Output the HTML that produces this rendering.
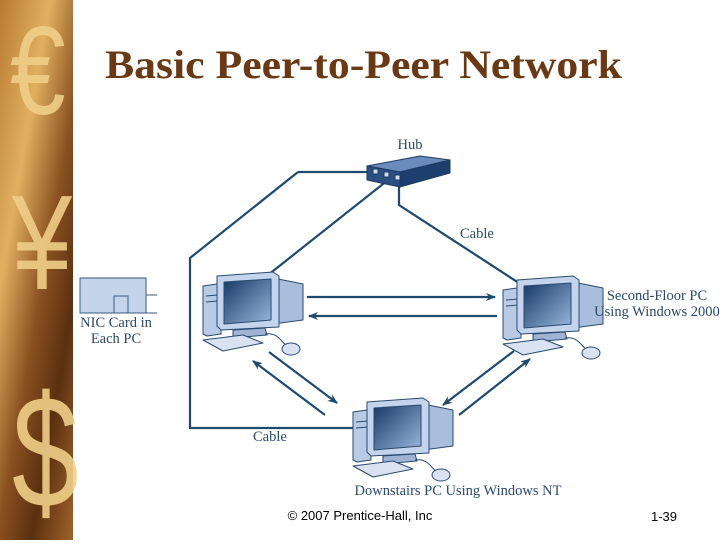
<!DOCTYPE html>
<html><head><style>
body{margin:0;width:720px;height:540px;background:#fff;overflow:hidden;position:relative;font-family:"Liberation Serif",serif}
.bar{position:absolute;left:0;top:0;width:73px;height:540px;background:linear-gradient(100deg,#b97a30 0%,#e0b060 30%,#8a5020 55%,#5a3010 75%,#a0622a 100%)}
.sym{position:absolute;color:#f0cf88;font-family:"Liberation Sans",sans-serif;opacity:.9}
</style></head><body>
<div class="bar">
<div class="sym" style="left:10px;top:0px;font-size:125px;transform:scaleX(.8);transform-origin:left">€</div>
<div class="sym" style="left:12px;top:165px;font-size:135px;transform:scaleX(.8);transform-origin:left">¥</div>
<div class="sym" style="left:12px;top:360px;font-size:160px;transform:scaleX(.75);transform-origin:left">$</div>
</div>
<svg width="720" height="540" style="position:absolute;left:0;top:0">
<text x="105" y="78" font-family="Liberation Serif, serif" font-size="40" font-weight="bold" fill="#6b3814" textLength="517" lengthAdjust="spacingAndGlyphs">Basic Peer-to-Peer Network</text>
<defs>
<linearGradient id="scr" x1="0" y1="0" x2="1" y2="1"><stop offset="0" stop-color="#163866"/><stop offset="1" stop-color="#9ab8dc"/></linearGradient>
<marker id="ah" markerWidth="10" markerHeight="8" refX="9" refY="4" orient="auto" markerUnits="userSpaceOnUse"><path d="M0,0 L10,4 L0,8 L3,4z" fill="#1d4a6e"/></marker>
<g id="pc" stroke="#2a4a70" stroke-width="1" stroke-linejoin="round">
<polygon points="0,14 14,12 18,14 18,62 4,64 0,62" fill="#b8cae4"/>
<line x1="3" y1="24" x2="15" y2="23"/><line x1="3" y1="30" x2="15" y2="29"/>
<polygon points="70,6 100,12 100,48 70,52" fill="#a9bedc"/>
<polygon points="14,4 70,0 76,4 76,55 18,58 14,54" fill="#c4d4ec"/>
<polygon points="21,10 68,7 68,48 21,52" fill="url(#scr)"/>
<polygon points="30,58 62,56 64,63 30,66" fill="#9fb4d4"/>
<polygon points="0,68 40,63 60,71 20,79" fill="#d8e2f0"/>
<path d="M62,62 C75,60 78,70 84,74" fill="none"/>
<ellipse cx="88" cy="77" rx="9" ry="6" fill="#d8e2f0"/>
</g>
</defs>
<g stroke="#1d4a6e" stroke-width="2.2" fill="none">
<polyline points="298,172 190,258 190,428 353,428"/>
<line x1="298" y1="172" x2="370" y2="172"/>
<line x1="388" y1="180" x2="268" y2="275"/>
<polyline points="399,184 399,205 522,285"/>
<line x1="307" y1="297" x2="495" y2="297" marker-end="url(#ah)"/>
<line x1="497" y1="316" x2="309" y2="316" marker-end="url(#ah)"/>
<line x1="269" y1="352" x2="337" y2="403" marker-end="url(#ah)"/>
<line x1="325" y1="415" x2="253" y2="361" marker-end="url(#ah)"/>
<line x1="514" y1="351" x2="443" y2="405" marker-end="url(#ah)"/>
<line x1="459" y1="415" x2="530" y2="359" marker-end="url(#ah)"/>
</g>
<g stroke="#1d3a60" stroke-width="1">
<polygon points="367,166 420,156 450,160 400,172" fill="#6a8cbc"/>
<polygon points="367,166 400,172 400,187 367,180" fill="#2a4f80"/>
<polygon points="400,172 450,160 450,173 400,187" fill="#1d3f6e"/>
<rect x="373" y="169" width="5" height="5" fill="#d0dcee"/>
<rect x="384" y="172" width="5" height="5" fill="#d0dcee"/>
<rect x="395" y="175" width="5" height="5" fill="#d0dcee"/>
</g>
<use href="#pc" x="203" y="272"/>
<use href="#pc" x="503" y="276"/>
<use href="#pc" x="353" y="398"/>
<rect x="80" y="278" width="66" height="35" fill="#c4d4ea" stroke="#3a5a80"/>
<rect x="114" y="296" width="14" height="17" fill="#c4d4ea" stroke="#3a5a80"/>
<line x1="146" y1="295" x2="157" y2="295" stroke="#3a5a80"/>
<line x1="146" y1="313" x2="157" y2="313" stroke="#3a5a80"/>
<g font-family="Liberation Serif, serif" font-size="14.5" fill="#2a4a6a">
<text x="410" y="149" text-anchor="middle">Hub</text>
<text x="460" y="238">Cable</text>
<text x="253" y="441">Cable</text>
<text x="116" y="327" text-anchor="middle">NIC Card in</text>
<text x="116" y="343" text-anchor="middle">Each PC</text>
<text x="657" y="300" text-anchor="middle">Second-Floor PC</text>
<text x="657" y="316" text-anchor="middle">Using Windows 2000</text>
<text x="458" y="495" text-anchor="middle">Downstairs PC Using Windows NT</text>
</g>
<g font-family="Liberation Sans, sans-serif" font-size="13" fill="#000">
<text x="360" y="520" text-anchor="middle">© 2007 Prentice-Hall, Inc</text>
<text x="664" y="521" text-anchor="middle">1-39</text>
</g>
</svg>
</body></html>
